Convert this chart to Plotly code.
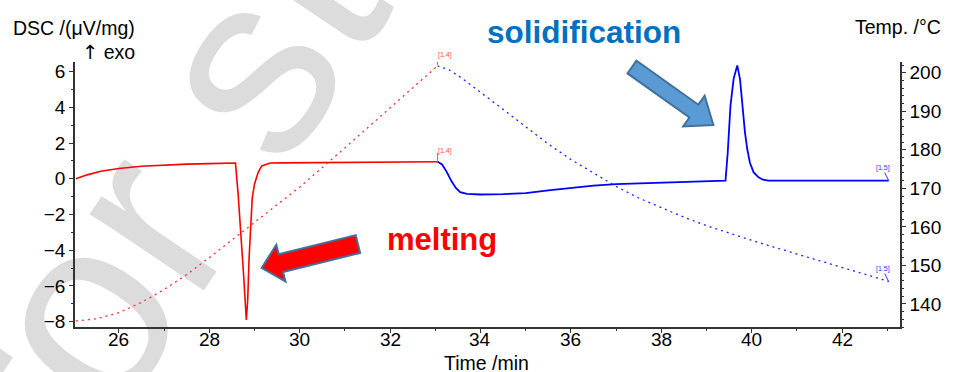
import plotly.graph_objects as go

# ---- measured data -------------------------------------------------------
# DSC signal while heating (uV/mg)
heat_time = [25.05, 25.3, 25.6, 26.0, 26.5, 27.0, 27.5, 28.0, 28.58, 28.64, 28.70,
             28.76, 28.82, 28.85, 28.88, 28.92, 28.95, 29.0, 29.08, 29.16, 29.35,
             29.6, 30.0, 31.0, 32.0, 33.05]
heat_dsc = [0.00, 0.22, 0.42, 0.58, 0.70, 0.77, 0.82, 0.85, 0.88, -0.9, -3.0,
            -5.4, -7.9, -6.8, -4.5, -2.2, -1.1, -0.3, 0.35, 0.72, 0.88,
            0.89, 0.90, 0.92, 0.93, 0.95]

# DSC signal while cooling (uV/mg)
cool_time = [33.05, 33.15, 33.25, 33.35, 33.45, 33.55, 33.7, 34.0, 34.5, 35.0,
             35.5, 36.0, 36.5, 37.0, 37.5, 38.0, 38.5, 39.0, 39.42, 39.47,
             39.53, 39.6, 39.68, 39.74, 39.79, 39.85, 39.9, 39.96, 40.04, 40.15,
             40.25, 40.37, 41.0, 42.0, 43.03]
cool_dsc = [0.95, 0.80, 0.40, -0.10, -0.50, -0.75, -0.85, -0.88, -0.86, -0.80,
            -0.65, -0.50, -0.38, -0.30, -0.25, -0.20, -0.17, -0.13, -0.10, 1.5,
            4.1, 5.6, 6.35, 5.6, 4.1, 2.6, 1.68, 0.9, 0.37, 0.08,
            -0.05, -0.10, -0.10, -0.10, -0.10]

# Sample temperature (deg C)
temp_heat_time = [25.05, 25.5, 26.0, 26.5, 27.0, 27.5, 28.0, 28.5, 29.0, 29.5,
                  30.0, 31.0, 32.0, 33.05]
temp_heat = [135.6, 136.1, 137.7, 140.4, 143.7, 147.6, 152.0, 156.6, 161.3, 165.8,
             170.3, 180.5, 191.0, 201.8]
temp_cool_time = [33.05, 33.3, 33.6, 34.0, 34.5, 35.0, 35.5, 36.0, 36.5, 37.0,
                  37.5, 38.0, 38.5, 39.0, 39.5, 40.0, 40.5, 41.0, 41.5, 42.0,
                  42.5, 43.03]
temp_cool = [201.8, 200.8, 198.5, 195.0, 190.5, 186.0, 181.5, 177.5, 174.0, 170.5,
             167.5, 165.0, 162.5, 160.3, 158.3, 156.5, 154.7, 153.0, 151.3, 149.6,
             147.7, 145.8]

time_ticks = [26, 28, 30, 32, 34, 36, 38, 40, 42]
segment_labels = ["[1.4]", "[1.5]"]

# ---- layout geometry ------------------------------------------------------
W, H = 953, 372
L, R, T, B = 75, 906, 62, 327
FONT = "Liberation Sans, Arial, DejaVu Sans, sans-serif"


def px(xp):
    return (xp - L) / (R - L)


def py(yp):
    return (B - yp) / (B - T)


RED = "#ff0000"
BLUE = "#0000ff"
AX = "#333333"

fig = go.Figure()

fig.add_trace(go.Scatter(x=temp_heat_time, y=temp_heat, yaxis="y2", mode="lines",
                         line=dict(color="#ff3030", width=1.3, dash="2px,4px"),
                         hoverinfo="skip"))
fig.add_trace(go.Scatter(x=temp_cool_time, y=temp_cool, yaxis="y2", mode="lines",
                         line=dict(color="#2020ff", width=1.3, dash="2px,4px"),
                         hoverinfo="skip"))
fig.add_trace(go.Scatter(x=heat_time, y=heat_dsc, mode="lines",
                         line=dict(color=RED, width=1.6)))
fig.add_trace(go.Scatter(x=cool_time, y=cool_dsc, mode="lines",
                         line=dict(color=BLUE, width=1.8)))

tickfont = dict(family=FONT, size=19, color="black")
axis_common = dict(showline=True, linecolor=AX, linewidth=1.5,
                   ticks="outside", ticklen=4, tickwidth=1, tickcolor=AX,
                   showgrid=False, zeroline=False, tickfont=tickfont)

fig.update_layout(
    width=W, height=H,
    margin=dict(l=L, r=W - R, t=T, b=H - B),
    paper_bgcolor="white", plot_bgcolor="rgba(0,0,0,0)",
    showlegend=False,
    xaxis=dict(range=[25.03, 43.28], tickvals=time_ticks, showticklabels=False,
               minor=dict(dtick=1, ticks="outside", ticklen=2, tickcolor=AX),
               **axis_common),
    yaxis=dict(range=[-8.3, 6.54], dtick=2, tick0=0,
               minor=dict(dtick=1, ticks="outside", ticklen=2, tickcolor=AX),
               **axis_common),
    yaxis2=dict(range=[134.0, 202.8], dtick=10, tick0=0, overlaying="y", side="right",
                minor=dict(dtick=2, ticks="outside", ticklen=2, tickcolor=AX),
                **axis_common),
)

# time tick labels, set tight under the axis line
for t in time_ticks:
    fig.add_annotation(text=str(t), x=t, y=py(339), xref="x", yref="paper",
                       xanchor="center", yanchor="middle", showarrow=False,
                       font=tickfont)

# faint watermark behind the curves
wx, wy = 258, 8
fig.add_shape(type="rect", xref="paper", yref="paper",
              x0=px(wx - 400), y0=py(wy + 300), x1=px(wx + 400), y1=py(wy - 300),
              line=dict(width=0), fillcolor="rgba(0,0,0,0)", layer="below",
              label=dict(text="for study", textposition="middle center", textangle=-56,
                         font=dict(family=FONT, size=260, color="#dcdcdc")))

# axis titles
ann = [
    dict(text="DSC /(μV/mg)", x=px(11), y=py(28), xanchor="left", yanchor="middle"),
    dict(text="<span style=\"font-family:DejaVu Sans\">↑</span> exo", x=px(137), y=py(52),
         xanchor="right", yanchor="middle"),
    dict(text="Temp. /°C", x=px(859), y=py(27), xanchor="left", yanchor="middle"),
    dict(text="Time /min", x=px(489), y=py(362.5), xanchor="center", yanchor="middle"),
]
for a in ann:
    fig.add_annotation(text=a["text"], x=a["x"], y=a["y"], xref="paper", yref="paper",
                       xanchor=a["xanchor"], yanchor=a["yanchor"], showarrow=False,
                       font=dict(family=FONT, size=19.5, color="black"))

fig.add_annotation(text="<b>melting</b>", x=px(445), y=py(239), xref="paper", yref="paper",
                   xanchor="center", yanchor="middle", showarrow=False,
                   font=dict(family=FONT, size=31, color="#ff0000"))
fig.add_annotation(text="<b>solidification</b>", x=px(588), y=py(32), xref="paper", yref="paper",
                   xanchor="center", yanchor="middle", showarrow=False,
                   font=dict(family=FONT, size=31.5, color="#0070c0"))


def block_arrow(points, fill):
    path = "M " + " L ".join(f"{px(a):.5f},{py(b):.5f}" for a, b in points) + " Z"
    fig.add_shape(type="path", xref="paper", yref="paper", path=path,
                  fillcolor=fill, line=dict(color="#41719c", width=2), layer="above")


block_arrow([(263, 268), (277.8, 244.8), (280.2, 254.3), (357.8, 235.1),
             (362.2, 252.9), (284.6, 272.1), (287.0, 281.4)], "#ff0000")
block_arrow([(718, 125), (687.6, 126.4), (693.9, 117.5), (631.5, 73.4),
             (640.5, 60.6), (702.9, 104.7), (709.2, 95.8)], "#5b9bd5")

# segment markers
seg_start = heat_time[-1]
seg_end = cool_time[-1]
for yref, yval in (("y2", temp_heat[-1]), ("y", heat_dsc[-1])):
    fig.add_shape(type="line", xref="x", yref=yref, ysizemode="pixel", yanchor=yval,
                  x0=seg_start, x1=seg_start, y0=1, y1=9,
                  line=dict(color="#ff5050", width=1))
    fig.add_annotation(text=segment_labels[0], x=seg_start, y=yval, xref="x", yref=yref,
                       xanchor="left", yanchor="middle", xshift=-2, yshift=11,
                       showarrow=False, font=dict(family=FONT, size=7, color="#ff5050"))
for yref, yval in (("y", cool_dsc[-1]), ("y2", temp_cool[-1])):
    fig.add_shape(type="line", xref="x", yref=yref, xsizemode="pixel", ysizemode="pixel",
                  xanchor=seg_end, yanchor=yval, x0=-4, x1=0, y0=8, y1=0,
                  line=dict(color="#3030ff", width=1))
    fig.add_annotation(text=segment_labels[1], x=seg_end, y=yval, xref="x", yref=yref,
                       xanchor="right", yanchor="middle", xshift=3, yshift=13,
                       showarrow=False, font=dict(family=FONT, size=7, color="#3030ff"))

fig.write_html("out.html")
